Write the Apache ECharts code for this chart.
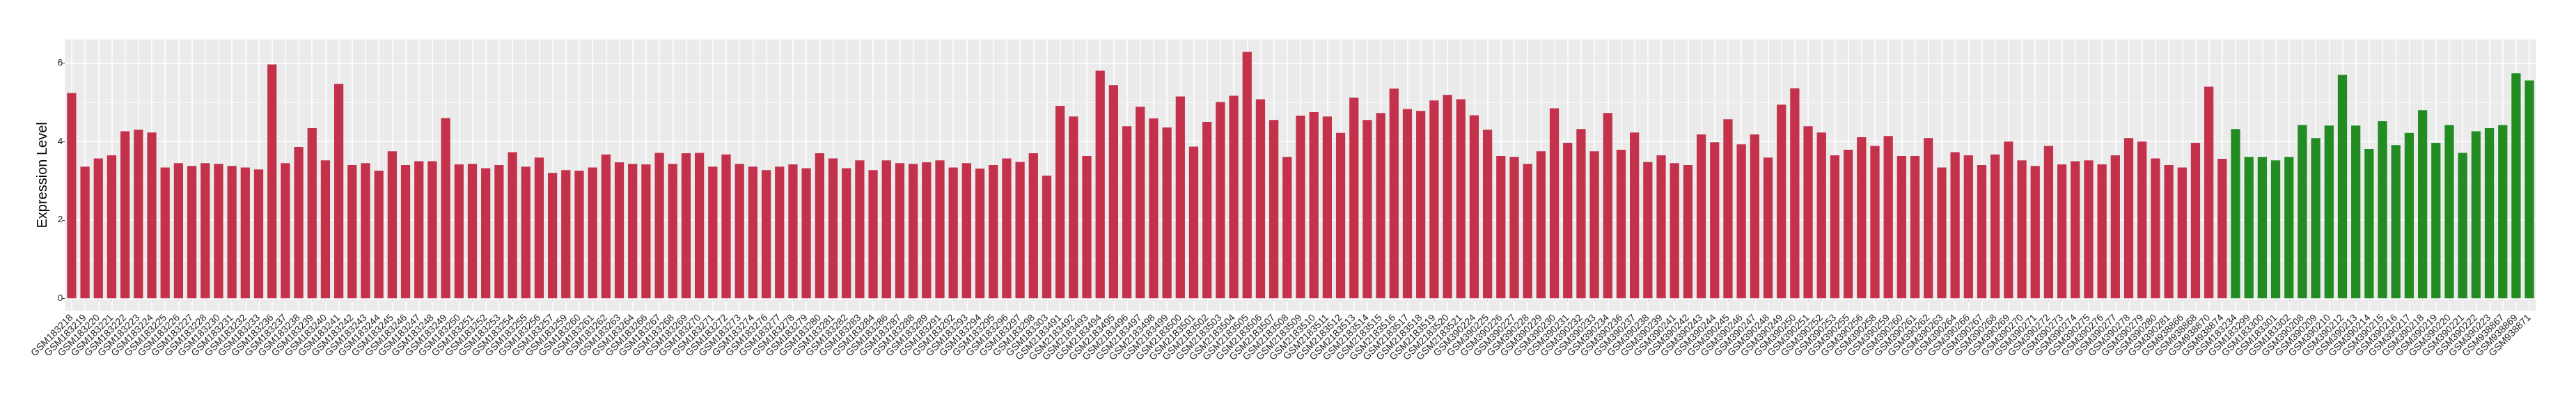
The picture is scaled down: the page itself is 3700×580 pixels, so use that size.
<!DOCTYPE html>
<html>
<head>
<meta charset="utf-8">
<script src="https://cdn.jsdelivr.net/npm/echarts@6/dist/echarts.min.js"></script>
<style>
html,body{margin:0;padding:0;background:#fff;}
#chart{width:3700px;height:580px;}
</style>
</head>
<body>
<div id="chart"></div>
<script>
// ---- data ----
var redCategories = [
"GSM183218","GSM183219","GSM183220","GSM183221","GSM183222","GSM183223","GSM183224","GSM183225","GSM183226","GSM183227",
"GSM183228","GSM183230","GSM183231","GSM183232","GSM183233","GSM183236","GSM183237","GSM183238","GSM183239","GSM183240",
"GSM183241","GSM183242","GSM183243","GSM183244","GSM183245","GSM183246","GSM183247","GSM183248","GSM183249","GSM183250",
"GSM183251","GSM183252","GSM183253","GSM183254","GSM183255","GSM183256","GSM183257","GSM183259","GSM183260","GSM183261",
"GSM183262","GSM183263","GSM183264","GSM183266","GSM183267","GSM183268","GSM183269","GSM183270","GSM183271","GSM183272",
"GSM183273","GSM183274","GSM183276","GSM183277","GSM183278","GSM183279","GSM183280","GSM183281","GSM183282","GSM183283",
"GSM183284","GSM183286","GSM183287","GSM183288","GSM183289","GSM183291","GSM183292","GSM183293","GSM183294","GSM183295",
"GSM183296","GSM183297","GSM183298","GSM183303",
"GSM2183491","GSM2183492","GSM2183493","GSM2183494","GSM2183495","GSM2183496","GSM2183497","GSM2183498","GSM2183499","GSM2183500",
"GSM2183501","GSM2183502","GSM2183503","GSM2183504","GSM2183505","GSM2183506","GSM2183507","GSM2183508","GSM2183509","GSM2183510",
"GSM2183511","GSM2183512","GSM2183513","GSM2183514","GSM2183515","GSM2183516","GSM2183517","GSM2183518","GSM2183519","GSM2183520",
"GSM2183521",
"GSM390224","GSM390225","GSM390226","GSM390227","GSM390228","GSM390229","GSM390230","GSM390231","GSM390232","GSM390233",
"GSM390234","GSM390236","GSM390237","GSM390238","GSM390239","GSM390241","GSM390242","GSM390243","GSM390244","GSM390245",
"GSM390246","GSM390247","GSM390248","GSM390249","GSM390250","GSM390251","GSM390252","GSM390253","GSM390255","GSM390256",
"GSM390258","GSM390259","GSM390260","GSM390261","GSM390262","GSM390263","GSM390264","GSM390266","GSM390267","GSM390268",
"GSM390269","GSM390270","GSM390271","GSM390272","GSM390273","GSM390274","GSM390275","GSM390276","GSM390277","GSM390278",
"GSM390279","GSM390280","GSM390281",
"GSM938866","GSM938868","GSM938870","GSM938874"
];
var redValues = [
5.24,3.36,3.57,3.65,4.26,4.30,4.23,3.34,3.45,3.38,
3.45,3.43,3.38,3.34,3.29,5.97,3.45,3.86,4.34,3.52,
5.47,3.40,3.45,3.26,3.75,3.40,3.50,3.50,4.60,3.42,
3.43,3.32,3.40,3.73,3.36,3.59,3.20,3.27,3.26,3.34,
3.67,3.47,3.43,3.42,3.71,3.43,3.70,3.71,3.36,3.67,
3.43,3.36,3.27,3.36,3.42,3.32,3.70,3.57,3.32,3.52,
3.27,3.52,3.45,3.43,3.47,3.52,3.34,3.45,3.31,3.40,
3.57,3.48,3.70,3.13,
4.91,4.64,3.63,5.81,5.44,4.39,4.89,4.59,4.36,5.15,
3.87,4.50,5.01,5.17,6.29,5.08,4.55,3.61,4.66,4.75,
4.64,4.22,5.12,4.55,4.73,5.35,4.83,4.78,5.05,5.19,
5.08,
4.67,4.30,3.63,3.61,3.43,3.75,4.85,3.97,4.32,3.75,
4.73,3.79,4.23,3.48,3.65,3.45,3.40,4.18,3.98,4.57,
3.93,4.18,3.59,4.94,5.36,4.39,4.23,3.65,3.79,4.11,
3.89,4.14,3.63,3.63,4.09,3.34,3.73,3.65,3.40,3.67,
4.00,3.52,3.38,3.89,3.42,3.50,3.52,3.42,3.65,4.09,
4.00,3.57,3.40,
3.34,3.97,5.40,3.56
];
var greenCategories = [
"GSM183234","GSM183299","GSM183300","GSM183301","GSM183302",
"GSM390208","GSM390209","GSM390210","GSM390212","GSM390213","GSM390214","GSM390215","GSM390216","GSM390217","GSM390218",
"GSM390219","GSM390220","GSM390221","GSM390222","GSM390223",
"GSM938867","GSM938869","GSM938871"
];
var greenValues = [
4.32,3.61,3.61,3.52,3.61,
4.42,4.09,4.41,5.70,4.41,3.81,4.52,3.91,4.22,4.80,
3.97,4.42,3.71,4.26,4.34,
4.42,5.74,5.56
];
var yTickValues = [0, 2, 4, 6];
var yMinorValues = [1, 3, 5];
var yTitle = "Expression Level";

// ---- build ----
var categories = redCategories.concat(greenCategories);
var allValues = redValues.concat(greenValues);
var vmax = Math.max.apply(null, allValues);
var pad = vmax * 0.05;

var gridLines = [];
yTickValues.forEach(function (v) {
  gridLines.push({ yAxis: v, lineStyle: { color: '#ffffff', width: 1.5, type: 'solid' } });
});
yMinorValues.forEach(function (v) {
  gridLines.push({ yAxis: v, lineStyle: { color: '#ffffff', width: 0.8, type: 'solid' } });
});
categories.forEach(function (c) {
  gridLines.push({ xAxis: c, lineStyle: { color: '#ffffff', width: 1.5, type: 'solid' } });
});

var chart = echarts.init(document.getElementById('chart'), null, { renderer: 'canvas' });
var font = 'Liberation Sans, Arial, Helvetica, sans-serif';
chart.setOption({
  animation: false,
  backgroundColor: '#ffffff',
  grid: {
    left: 93.3, right: 57.3, top: 56.7, bottom: 134,
    show: true, backgroundColor: '#EBEBEB', borderWidth: 0
  },
  xAxis: {
    type: 'category',
    data: categories,
    boundaryGap: true,
    axisLine: { show: false },
    axisTick: { show: true, alignWithLabel: true, length: 4, lineStyle: { color: '#333333', width: 1 } },
    axisLabel: { interval: 0, rotate: 45, fontSize: 14, color: '#222222', fontFamily: font, margin: 8 },
    splitLine: { show: false }
  },
  yAxis: {
    type: 'value',
    min: -pad,
    max: vmax + pad,
    name: yTitle,
    nameLocation: 'middle',
    nameRotate: 90,
    nameGap: 18,
    nameTextStyle: { fontSize: 20, color: '#000000', fontFamily: font },
    axisLine: { show: false },
    axisTick: { show: true, length: 4, customValues: yTickValues, lineStyle: { color: '#333333', width: 1 } },
    axisLabel: { customValues: yTickValues, fontSize: 13.5, color: '#222222', fontFamily: font, margin: 3 },
    splitLine: { show: false },
    minorSplitLine: { show: false }
  },
  series: [
    {
      type: 'line',
      data: [],
      z: 1,
      silent: true,
      markLine: {
        z: 1,
        silent: true,
        symbol: ['none', 'none'],
        label: { show: false },
        animation: false,
        data: gridLines
      }
    },
    {
      type: 'bar',
      z: 3,
      barWidth: '69%',
      barGap: '-100%',
      itemStyle: { color: '#C3314A' },
      data: redCategories.map(function (c, i) { return [c, redValues[i]]; })
    },
    {
      type: 'bar',
      z: 3,
      barWidth: '69%',
      barGap: '-100%',
      itemStyle: { color: '#228B22' },
      data: greenCategories.map(function (c, i) { return [c, greenValues[i]]; })
    }
  ]
});
</script>
</body>
</html>
